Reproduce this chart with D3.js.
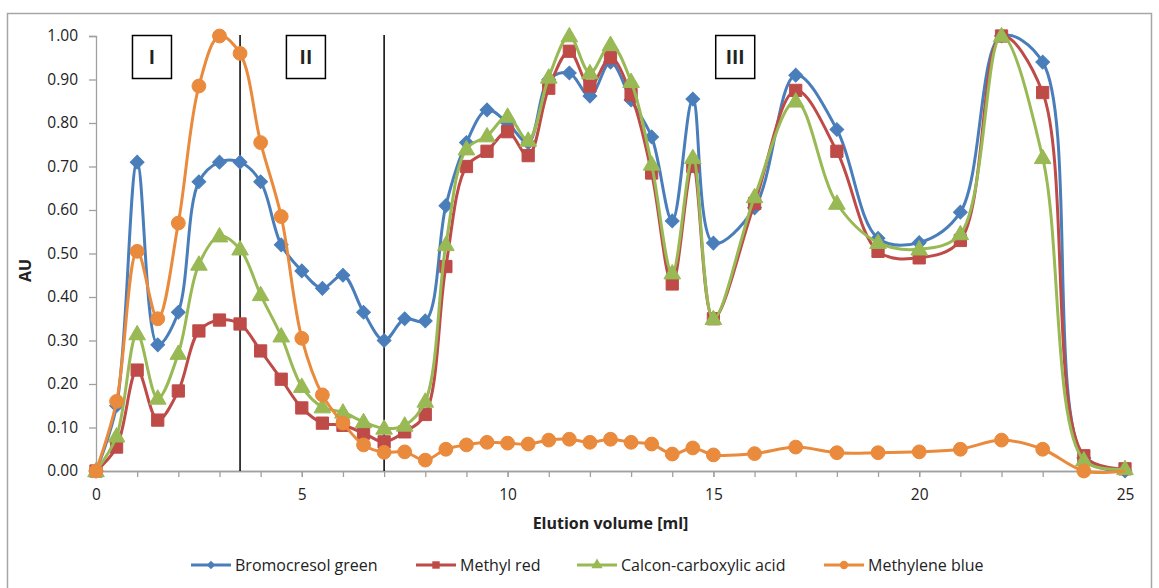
<!DOCTYPE html>
<html>
<head>
<meta charset="utf-8">
<script src="https://cdn.jsdelivr.net/npm/d3@7"></script>
<style>
  body { margin: 0; background: #fff; }
  text { font-family: "Open Sans", "Liberation Sans", sans-serif; fill: #222; }
</style>
</head>
<body>
<svg id="chart" width="1159" height="588"></svg>
<script>
// elution volume (ml)
var volume = [0, 0.5, 1, 1.5, 2, 2.5, 3, 3.5, 4, 4.5, 5, 5.5, 6, 6.5, 7, 7.5, 8, 8.5, 9, 9.5,
  10, 10.5, 11, 11.5, 12, 12.5, 13, 13.5, 14, 14.5, 15, 16, 17, 18, 19, 20, 21, 22, 23, 24, 25];

var bromocresolGreen = [0, 0.15, 0.71, 0.29, 0.365, 0.665, 0.71, 0.71, 0.665, 0.52, 0.46, 0.42, 0.45, 0.365, 0.30, 0.35, 0.345, 0.61, 0.755, 0.83,
  0.80, 0.755, 0.90, 0.915, 0.862, 0.94, 0.853, 0.768, 0.575, 0.855, 0.524, 0.605, 0.91, 0.785, 0.535, 0.525, 0.595, 1.00, 0.94, 0.03, 0];

var methylRed = [0, 0.055, 0.232, 0.117, 0.184, 0.322, 0.347, 0.338, 0.276, 0.211, 0.145, 0.11, 0.105, 0.087, 0.067, 0.09, 0.13, 0.47, 0.70, 0.735,
  0.78, 0.725, 0.88, 0.965, 0.885, 0.95, 0.865, 0.685, 0.43, 0.70, 0.35, 0.615, 0.875, 0.735, 0.505, 0.49, 0.53, 1.00, 0.87, 0.035, 0.005];

var calconAcid = [0, 0.08, 0.315, 0.167, 0.27, 0.475, 0.54, 0.51, 0.405, 0.31, 0.194, 0.147, 0.135, 0.113, 0.098, 0.105, 0.16, 0.52, 0.74, 0.77,
  0.815, 0.76, 0.905, 1.00, 0.915, 0.98, 0.895, 0.705, 0.455, 0.72, 0.35, 0.63, 0.85, 0.615, 0.525, 0.51, 0.545, 1.00, 0.72, 0.025, 0.005];

var methyleneBlue = [0, 0.16, 0.505, 0.35, 0.57, 0.885, 1.00, 0.96, 0.755, 0.585, 0.305, 0.175, 0.11, 0.06, 0.043, 0.044, 0.025, 0.05, 0.06, 0.066,
  0.064, 0.062, 0.071, 0.073, 0.066, 0.073, 0.066, 0.062, 0.039, 0.053, 0.037, 0.04, 0.055, 0.042, 0.042, 0.044, 0.05, 0.071, 0.05, 0, 0];

var seriesNames = ["Bromocresol green", "Methyl red", "Calcon-carboxylic acid", "Methylene blue"];
var seriesColors = ["#4A7EBB", "#BE4B48", "#98B954", "#E98A3C"];
var seriesShapes = ["diamond", "square", "triangle", "circle"];

var xTicks = [0, 5, 10, 15, 20, 25];
var yTicks = [0, 0.1, 0.2, 0.3, 0.4, 0.5, 0.6, 0.7, 0.8, 0.9, 1.0];

// region dividers and labels
var dividers = [3.5, 7];
var regions = [{ label: "I", at: 1.36 }, { label: "II", at: 5.1 }, { label: "III", at: 15.53 }];

var svg = d3.select("#chart");

// chart frame
svg.append("rect")
  .attr("x", 7.5).attr("y", 13.5)
  .attr("width", 1144).attr("height", 600)
  .attr("fill", "none")
  .attr("stroke", "#a6a6a6")
  .attr("stroke-width", 1.5);

var x = d3.scaleLinear().domain([0, 25]).range([96, 1125]);
var y = d3.scaleLinear().domain([0, 1]).range([471, 36]);

// axes
var yAxis = d3.axisLeft(y)
  .tickValues(yTicks)
  .tickSize(7)
  .tickPadding(11)
  .tickFormat(d3.format(".2f"));

svg.append("g")
  .attr("class", "yaxis")
  .attr("transform", "translate(" + x(0) + ",0)")
  .call(yAxis);

var xMinor = d3.axisBottom(x).ticks(25).tickSize(6).tickFormat("");
svg.append("g")
  .attr("transform", "translate(0," + y(0) + ")")
  .call(xMinor);

var xAxis = d3.axisBottom(x).tickValues(xTicks).tickSize(6).tickPadding(12).tickFormat(d3.format("d"));
svg.append("g")
  .attr("transform", "translate(0," + y(0) + ")")
  .call(xAxis);

svg.selectAll(".domain, .tick line").attr("stroke", "#a0a0a0").attr("stroke-width", 1.3);
svg.selectAll(".tick text").style("font-size", "15.5px").attr("fill", "#222");

svg.append("text")
  .attr("x", (x(0) + x(25)) / 2)
  .attr("y", 529)
  .attr("text-anchor", "middle")
  .style("font-size", "16px")
  .style("font-weight", "bold")
  .text("Elution volume [ml]");

svg.append("text")
  .attr("transform", "translate(31," + (y(0.5) + 17) + ") rotate(-90)")
  .attr("text-anchor", "middle")
  .style("font-size", "16px")
  .style("font-weight", "bold")
  .text("AU");

// region dividers
svg.selectAll(".divider")
  .data(dividers)
  .enter().append("line")
  .attr("class", "divider")
  .attr("x1", function (d) { return x(d); })
  .attr("x2", function (d) { return x(d); })
  .attr("y1", 35)
  .attr("y2", y(0))
  .attr("stroke", "#000")
  .attr("stroke-width", 1.5);

// series
var allSeries = [bromocresolGreen, methylRed, calconAcid, methyleneBlue].map(function (vals, i) {
  return {
    name: seriesNames[i],
    color: seriesColors[i],
    shape: seriesShapes[i],
    points: vals.map(function (v, j) { return { x: volume[j], y: v }; })
  };
});

var line = d3.line()
  .x(function (d) { return x(d.x); })
  .y(function (d) { return y(d.y); })
  .curve(d3.curveCatmullRom.alpha(0.5));

var symbolFor = {
  diamond: d3.symbol().type(d3.symbolSquare).size(95),
  square: d3.symbol().type(d3.symbolSquare).size(150),
  triangle: d3.symbol().type(d3.symbolTriangle).size(120),
  circle: d3.symbol().type(d3.symbolCircle).size(150)
};

function drawMarker(g, shape, color, px, py) {
  g.append("path")
    .attr("d", symbolFor[shape]())
    .attr("fill", color)
    .attr("stroke", color)
    .attr("stroke-width", 1)
    .attr("transform", "translate(" + px + "," + py + ")" +
      (shape === "diamond" ? " rotate(45)" : "") +
      (shape === "triangle" ? " translate(0,1)" : ""));
}

allSeries.forEach(function (s) {
  var g = svg.append("g");
  g.append("path")
    .datum(s.points)
    .attr("d", line)
    .attr("fill", "none")
    .attr("stroke", s.color)
    .attr("stroke-width", 3);

  s.points.forEach(function (p, j) {
    // the Methylene blue series has no marker at 25 ml
    if (s.shape === "circle" && j === s.points.length - 1) return;
    drawMarker(g, s.shape, s.color, x(p.x), y(p.y));
  });
});

// region label boxes
regions.forEach(function (r) {
  var cx = x(r.at);
  svg.append("rect")
    .attr("x", cx - 19.5).attr("y", 35.5)
    .attr("width", 39).attr("height", 43)
    .attr("fill", "#fff")
    .attr("stroke", "#000")
    .attr("stroke-width", 1.5);
  svg.append("text")
    .attr("x", cx).attr("y", 64)
    .attr("text-anchor", "middle")
    .style("font-size", "19px")
    .style("font-weight", "bold")
    .text(r.label);
});

// legend
var legendX = [191, 416, 577, 824];
allSeries.forEach(function (s, i) {
  var g = svg.append("g").attr("transform", "translate(" + legendX[i] + ",565)");
  g.append("line")
    .attr("x1", 0).attr("x2", 40)
    .attr("stroke", s.color).attr("stroke-width", 3);
  var sym = d3.symbol().type(s.shape === "circle" ? d3.symbolCircle :
    s.shape === "triangle" ? d3.symbolTriangle : d3.symbolSquare).size(s.shape === "diamond" ? 35 : 55);
  g.append("path")
    .attr("d", sym())
    .attr("fill", s.color)
    .attr("transform", "translate(20,0)" + (s.shape === "diamond" ? " rotate(45)" : ""));
  g.append("text")
    .attr("x", 44).attr("y", 5.5)
    .style("font-size", "16px")
    .text(s.name);
});
</script>
</body>
</html>
